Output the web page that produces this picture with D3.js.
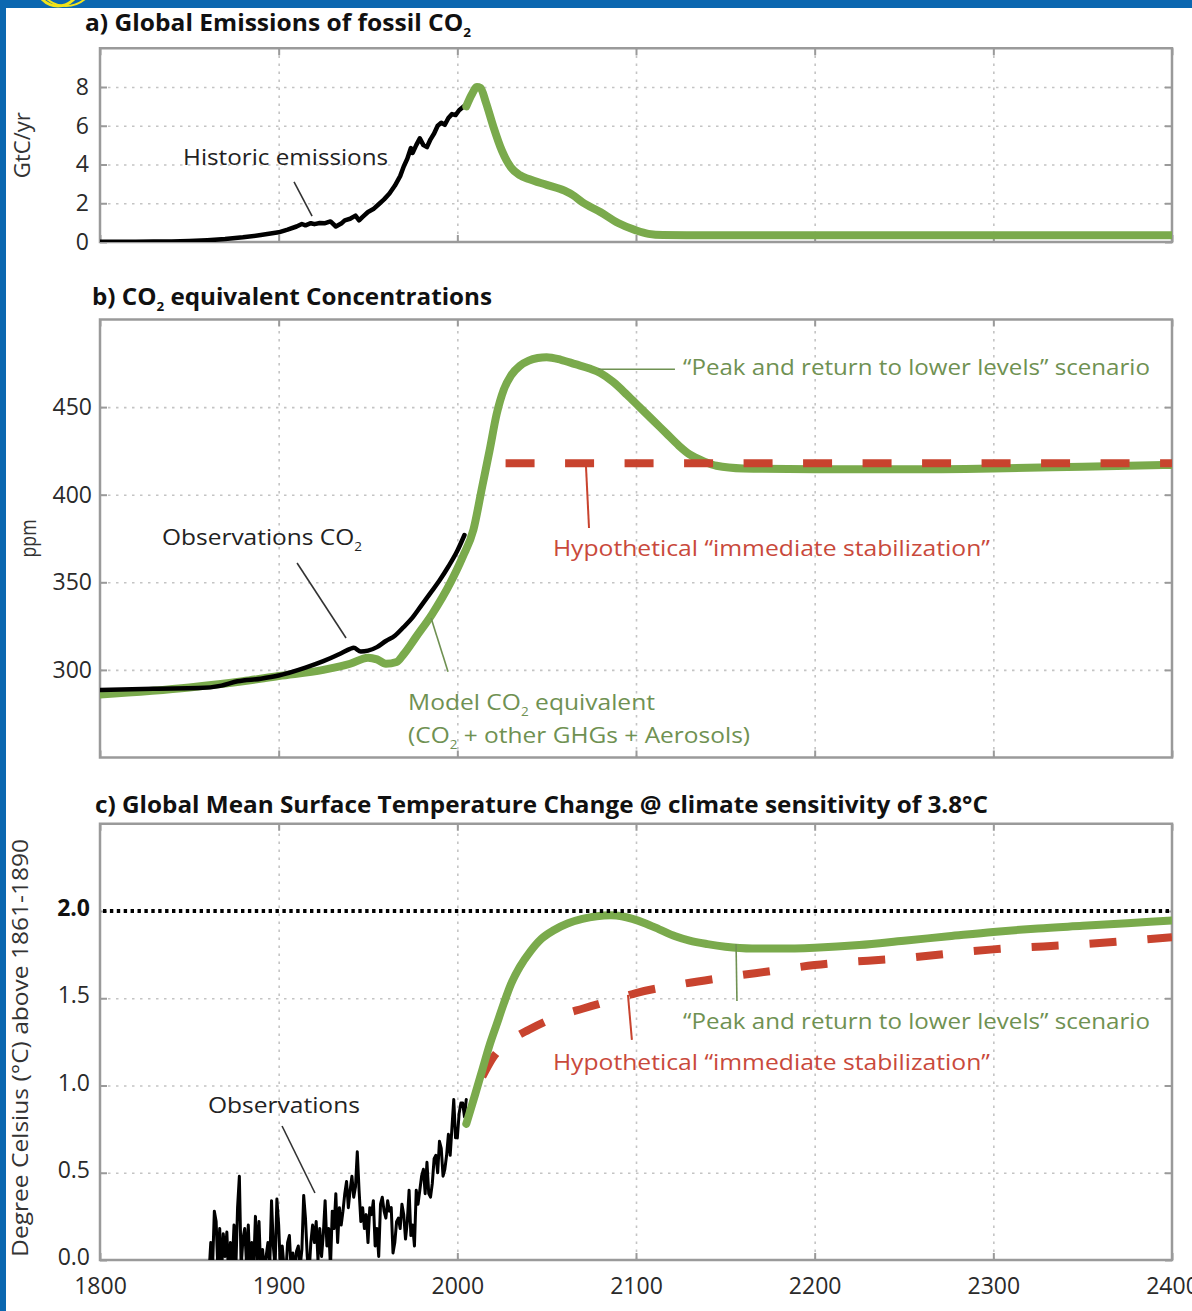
<!DOCTYPE html>
<html><head><meta charset="utf-8">
<script src="https://cdn.jsdelivr.net/npm/d3@7"></script>
<style>
body{margin:0;background:#0b67b0;}
svg{display:block;}
text{font-family:"Open Sans",sans-serif;}
</style></head><body>
<svg id="chart" width="1192" height="1311"></svg>
<script>
// ---------------- DATA ----------------
const xTicks = [1800, 1900, 2000, 2100, 2200, 2300, 2400];
const emisTicks = [0, 2, 4, 6, 8];
const concTicks = [300, 350, 400, 450];
const tempTicks = [0.0, 0.5, 1.0, 1.5, 2.0];

// a) historic fossil CO2 emissions (GtC/yr)
const historicEmissions = [
 [1800,0.01],[1810,0.01],[1820,0.015],[1830,0.02],[1840,0.03],[1850,0.05],[1860,0.09],[1870,0.15],
 [1880,0.24],[1890,0.36],[1900,0.5],[1905,0.64],[1910,0.8],[1913,0.93],[1915,0.86],[1918,0.97],
 [1920,0.92],[1923,0.98],[1926,0.97],[1929,1.06],[1932,0.8],[1935,0.95],[1937,1.12],[1940,1.2],
 [1943,1.36],[1945,1.12],[1947,1.3],[1950,1.55],[1953,1.7],[1956,1.95],[1959,2.2],[1962,2.5],
 [1965,2.9],[1968,3.4],[1970,3.9],[1972,4.3],[1974,4.85],[1975,4.6],[1977,5.0],[1979,5.35],
 [1981,5.0],[1983,4.9],[1985,5.3],[1987,5.6],[1989,6.0],[1991,6.15],[1993,6.05],[1995,6.4],
 [1997,6.6],[1999,6.55],[2001,6.8],[2003,6.95],[2005,7.1]
];
// a) "peak and return" emissions scenario
const scenarioEmissions = [
 [2005,7.0],[2008,7.6],[2011,8.0],[2013,7.95],[2016,7.2],[2020,6.0],[2025,4.7],[2030,3.85],
 [2035,3.45],[2040,3.25],[2050,2.95],[2060,2.65],[2065,2.4],[2070,2.05],[2080,1.55],[2090,0.98],
 [2100,0.6],[2107,0.42],[2115,0.36],[2150,0.35],[2250,0.35],[2400,0.35]
];

// b) observed CO2 (ppm)
const observedCO2 = [
 [1800,288.5],[1830,289.3],[1855,289.6],[1868,291],[1877,293.5],[1890,295],[1900,296.8],[1915,301.3],
 [1925,305],[1935,309.5],[1940,312],[1942,312.6],[1946,310.5],[1950,311],[1955,313],[1960,316.5],
 [1965,319.5],[1970,324.5],[1975,330],[1980,337],[1985,344],[1990,351],[1995,359],[2000,368],[2004,377]
];
// b) model CO2 equivalent, "peak and return" scenario (ppm)
const modelCO2eq = [
 [1800,286],[1850,290],[1880,293.5],[1900,296.5],[1925,300],[1940,303.5],[1950,307],[1955,306],
 [1960,303.5],[1966,304.5],[1970,309],[1977,319],[1986,332],[1996,349.5],[2003,364.5],[2009,380],
 [2014,405],[2018,425],[2022,446],[2026,460],[2030,468],[2035,473.5],[2040,476.5],[2045,478],
 [2050,478.5],[2058,477],[2066,474.5],[2074,472],[2080,469.5],[2087,464.5],[2095,457],[2102,450],
 [2110,442],[2117,435],[2124,428],[2130,423],[2138,419],[2145,416.5],[2160,415],[2200,414.5],
 [2250,414.5],[2300,415],[2350,416],[2400,417]
];
// b) hypothetical immediate stabilization (ppm)
const stabilizationCO2 = [[2027,418],[2400,418]];

// c) observed temperature anomaly 1861-2005 (°C above 1861-1890)
const obsTempStart = 1861;
const observedTemp = [
 -0.08,0.10,-0.04,0.28,0.22,-0.06,0.18,-0.08,0.15,0.02,
 0.16,-0.10,0.10,-0.04,0.20,-0.06,0.30,0.48,-0.04,0.12,
 0.18,-0.02,0.20,-0.08,0.10,-0.04,0.25,0.00,0.22,-0.08,
 0.06,-0.06,0.02,0.10,-0.04,0.34,0.08,-0.04,0.35,0.20,
 -0.06,0.08,-0.04,-0.08,0.10,0.14,-0.06,0.04,-0.08,0.05,
 0.08,-0.04,0.06,0.37,0.24,0.02,-0.08,0.10,0.20,0.10,
 0.22,0.00,0.18,0.02,0.15,0.34,0.08,0.18,-0.04,0.28,
 0.18,0.38,0.10,0.30,0.20,0.28,0.38,0.45,0.30,0.40,
 0.48,0.36,0.42,0.62,0.40,0.22,0.30,0.18,0.26,0.10,
 0.30,0.26,0.34,0.08,0.18,0.02,0.32,0.36,0.28,0.24,
 0.34,0.28,0.30,0.04,0.10,0.22,0.24,0.18,0.32,0.26,
 0.12,0.22,0.40,0.14,0.20,0.08,0.40,0.32,0.40,0.48,
 0.52,0.38,0.56,0.38,0.36,0.44,0.58,0.60,0.50,0.68,
 0.64,0.48,0.52,0.60,0.72,0.60,0.76,0.92,0.70,0.70,
 0.84,0.90,0.90,0.82,0.92
];
// c) "peak and return" temperature
const scenarioTemp = [
 [2005,0.78],[2010,0.95],[2014,1.09],[2018,1.23],[2022,1.35],[2026,1.47],[2030,1.58],[2035,1.68],
 [2041,1.77],[2047,1.84],[2054,1.89],[2062,1.93],[2070,1.955],[2078,1.97],[2086,1.975],[2092,1.97],
 [2098,1.955],[2105,1.93],[2113,1.895],[2122,1.855],[2130,1.83],[2140,1.81],[2150,1.795],[2165,1.785],
 [2180,1.785],[2200,1.79],[2225,1.805],[2250,1.83],[2275,1.855],[2300,1.88],[2325,1.9],
 [2350,1.915],[2375,1.93],[2400,1.945]
];
// c) hypothetical immediate stabilization temperature
const stabilizationTemp = [
 [2014,1.05],[2020,1.16],[2030,1.26],[2040,1.32],[2050,1.37],[2060,1.41],[2070,1.44],[2080,1.47],
 [2090,1.50],[2100,1.53],[2125,1.58],[2150,1.62],[2175,1.655],[2200,1.69],[2250,1.73],[2300,1.78],
 [2350,1.81],[2400,1.85]
];
const targetTemp = 2.0;

// ---------------- STYLE ----------------
const GREEN = "#7aaa4c", RED = "#c8432e", GTEXT = "#6f9152", RTEXT = "#c9493b";
const FRAME = "#9a9a9a", GRID = "#c4c4c4";

const svg = d3.select("#chart");
svg.append("rect").attr("width",1192).attr("height",1311).attr("fill","#0b67b0");
// yellow highlight remnant at the top-left
const deco = svg.append("g");
deco.append("clipPath").attr("id","topclip").append("rect").attr("x",0).attr("y",0).attr("width",200).attr("height",8);
deco.append("ellipse").attr("cx",58).attr("cy",-16).attr("rx",22).attr("ry",22)
  .attr("fill","none").attr("stroke","#f2e31a").attr("stroke-width",3).attr("clip-path","url(#topclip)");
deco.append("ellipse").attr("cx",66).attr("cy",-30).attr("rx",32).attr("ry",36)
  .attr("fill","none").attr("stroke","#f2e31a").attr("stroke-width",2).attr("clip-path","url(#topclip)");
svg.append("rect").attr("x",6).attr("y",8).attr("width",1186).attr("height",1303).attr("fill","#fff");

const x = d3.scaleLinear().domain([1800,2400]).range([100,1172]);
const L = 100, R = 1172;

function richText(g, parts, opts){
  const t = g.append("text").attr("x",opts.x).attr("y",opts.y)
    .attr("font-size",opts.size).attr("fill",opts.fill||"#222")
    .attr("font-weight",opts.weight||"normal");
  const shift = opts.size*0.28;
  let lowered = false;
  parts.forEach(p=>{
    const sp = t.append("tspan");
    if (typeof p === "string") {
      sp.text(p);
      if (lowered) { sp.attr("dy",-shift); lowered = false; }
    } else {
      sp.attr("font-size",opts.size*0.55).attr("dy",shift).text(p.sub);
      lowered = true;
    }
  });
  if (opts.width) t.attr("textLength",opts.width).attr("lengthAdjust","spacingAndGlyphs");
  if (opts.rotate) t.attr("transform",`rotate(-90,${opts.x},${opts.y})`).attr("text-anchor","middle");
  return t;
}

function panel(cfg){
  const y = d3.scaleLinear().domain(cfg.domain).range(cfg.range);
  const g = svg.append("g");
  const top = cfg.range[1], bot = cfg.range[0];
  // gridlines
  const gx = g.append("g").attr("transform",`translate(0,${bot})`)
    .call(d3.axisBottom(x).tickValues(xTicks.slice(1,-1)).tickSize(-(bot-top)).tickFormat(""));
  const gy = g.append("g").attr("transform",`translate(${L},0)`)
    .call(d3.axisLeft(y).tickValues(cfg.grid).tickSize(-(R-L)).tickFormat(""));
  [gx,gy].forEach(a=>{a.select(".domain").remove();
    a.selectAll("line").attr("stroke",GRID).attr("stroke-width",1.6).attr("stroke-dasharray","2.5,5.5");});
  // inside ticks
  const axL = g.append("g").attr("transform",`translate(${L},0)`)
    .call(d3.axisLeft(y).tickValues(cfg.ticks).tickSizeInner(-7).tickSizeOuter(0).tickPadding(cfg.pad).tickFormat(cfg.fmt));
  const axR = g.append("g").attr("transform",`translate(${R},0)`)
    .call(d3.axisRight(y).tickValues(cfg.ticks).tickSizeInner(-7).tickSizeOuter(0).tickFormat(""));
  const axT = g.append("g").attr("transform",`translate(0,${top})`)
    .call(d3.axisTop(x).tickValues(xTicks).tickSizeInner(-7).tickSizeOuter(0).tickFormat(""));
  const axB = g.append("g").attr("transform",`translate(0,${bot})`)
    .call(d3.axisBottom(x).tickValues(xTicks).tickSizeInner(-7).tickSizeOuter(0).tickPadding(18)
      .tickFormat(cfg.xLabels ? d3.format("d") : ""));
  [axL,axR,axT,axB].forEach(a=>{a.select(".domain").remove();
    a.selectAll("line").attr("stroke",FRAME).attr("stroke-width",2);
    a.selectAll("text").attr("font-family","Open Sans").attr("font-size",23).attr("fill","#2a2a2a");});
  axR.selectAll("text").remove(); axT.selectAll("text").remove();
  if (!cfg.xLabels) axB.selectAll("text").remove();
  if (cfg.labelDy) axL.selectAll("text").attr("dy",cfg.labelDy);
  // frame
  g.append("rect").attr("x",L).attr("y",top).attr("width",R-L).attr("height",bot-top)
    .attr("fill","none").attr("stroke",FRAME).attr("stroke-width",2.5);
  // clip
  g.append("clipPath").attr("id","clip"+cfg.id).append("rect")
    .attr("x",L).attr("y",top).attr("width",R-L).attr("height",bot-top);
  const plot = g.append("g").attr("clip-path",`url(#clip${cfg.id})`);
  // title
  richText(g, cfg.title, {x:cfg.titleX, y:cfg.titleY, size:23, weight:"bold", fill:"#111", width:cfg.titleW});
  // y label
  richText(g, [cfg.ylabel], {x:cfg.ylabX, y:(top+bot)/2 + cfg.ylabDy, size:22, fill:"#333", rotate:true, width:cfg.ylabW});
  return {g, plot, y, axL};
}

function line(plot, data, y, opts){
  const gen = d3.line().x(d=>x(d[0])).y(d=>y(d[1])).curve(opts.curve || d3.curveMonotoneX);
  return plot.append("path").datum(data).attr("d",gen).attr("fill","none")
    .attr("stroke",opts.color).attr("stroke-width",opts.width)
    .attr("stroke-linejoin","round").attr("stroke-linecap",opts.cap||"round")
    .attr("stroke-dasharray",opts.dash||null);
}
function leader(g, y, p1, p2, color, w){
  g.append("line").attr("x1",x(p1[0])).attr("y1",y(p1[1])).attr("x2",x(p2[0])).attr("y2",y(p2[1]))
    .attr("stroke",color).attr("stroke-width",w||1.6);
}

// ---------- Panel a ----------
const A = panel({id:"a", domain:[0,10], range:[242,48.25], ticks:emisTicks, grid:[2,4,6,8], pad:11,
  fmt:d3.format("d"), title:["a) Global Emissions of fossil CO",{sub:"2"}], titleX:85, titleY:31, titleW:386,
  ylabel:"GtC/yr", ylabX:30, ylabDy:0, ylabW:66});
line(A.plot, historicEmissions, A.y, {color:"#000", width:4.5, curve:d3.curveLinear});
line(A.plot, scenarioEmissions, A.y, {color:GREEN, width:8});
richText(A.g, ["Historic emissions"], {x:x(1846.5), y:A.y(3.97), size:22, fill:"#222", width:205});
leader(A.g, A.y, [1908.6,3.1], [1918.7,1.34], "#333");

// ---------- Panel b ----------
const B = panel({id:"b", domain:[250,500], range:[757.5,319.5], ticks:concTicks, grid:concTicks, pad:8,
  fmt:d3.format("d"), title:["b) CO",{sub:"2"}," equivalent Concentrations"], titleX:92, titleY:305, titleW:400,
  ylabel:"ppm", ylabX:36, ylabDy:0, ylabW:38});
line(B.plot, modelCO2eq, B.y, {color:GREEN, width:8});
line(B.plot, observedCO2, B.y, {color:"#000", width:4.5});
line(B.plot, stabilizationCO2, B.y, {color:RED, width:8, dash:"29,30.5", cap:"butt", curve:d3.curveLinear});
richText(B.g, ["“Peak and return to lower levels” scenario"], {x:x(2126.3), y:B.y(468.2), size:22, fill:GTEXT, width:467});
leader(B.g, B.y, [2078.7,471.6], [2121.8,471.6], GTEXT);
richText(B.g, ["Hypothetical “immediate stabilization”"], {x:x(2053.5), y:B.y(365), size:22, fill:RTEXT, width:437});
leader(B.g, B.y, [2072,416.3], [2073.7,381], RED, 2);
richText(B.g, ["Observations CO",{sub:"2"}], {x:x(1834.7), y:B.y(371.3), size:22, fill:"#222", width:200});
leader(B.g, B.y, [1910.3,361], [1937.7,318.2], "#333");
richText(B.g, ["Model CO",{sub:"2"}," equivalent"], {x:x(1972.4), y:B.y(277.2), size:22, fill:GTEXT, width:247});
richText(B.g, ["(CO",{sub:"2"}," + other GHGs + Aerosols)"], {x:x(1972.4), y:B.y(258.4), size:22, fill:GTEXT, width:342});
leader(B.g, B.y, [1985.3,329.6], [1994.8,298.9], GTEXT);

// ---------- Panel c ----------
const C = panel({id:"c", domain:[0,2.5], range:[1260,823.75], ticks:tempTicks, grid:[0.5,1.0,1.5], pad:10,
  fmt:d3.format(".1f"), xLabels:true, labelDy:"0.2em",
  title:["c) Global Mean Surface Temperature Change @ climate sensitivity of 3.8°C"], titleX:95, titleY:813, titleW:893,
  ylabel:"Degree Celsius (°C) above 1861-1890", ylabX:28, ylabDy:6, ylabW:418});
C.axL.selectAll(".tick text").filter(d=>d===2).attr("font-weight","bold").attr("fill","#111");
C.g.append("line").attr("x1",L+3).attr("x2",R).attr("y1",C.y(targetTemp)).attr("y2",C.y(targetTemp))
  .attr("stroke","#000").attr("stroke-width",4).attr("stroke-dasharray","3.4,3.5");
const obsTemp = observedTemp.map((v,i)=>[obsTempStart+i, v]);
line(C.plot, obsTemp, C.y, {color:"#000", width:3, curve:d3.curveLinear});
line(C.plot, stabilizationTemp, C.y, {color:RED, width:8, dash:"27,31", cap:"butt"});
line(C.plot, scenarioTemp, C.y, {color:GREEN, width:8});
richText(C.g, ["Observations"], {x:x(1860.4), y:C.y(0.842), size:22, fill:"#222", width:152});
leader(C.g, C.y, [1901.9,0.768], [1920.3,0.384], "#333");
richText(C.g, ["“Peak and return to lower levels” scenario"], {x:x(2126.3), y:C.y(1.324), size:22, fill:GTEXT, width:467});
leader(C.g, C.y, [2156,1.811], [2156.5,1.484], GTEXT);
richText(C.g, ["Hypothetical “immediate stabilization”"], {x:x(2053.5), y:C.y(1.089), size:22, fill:RTEXT, width:437});
leader(C.g, C.y, [2095.5,1.519], [2097.7,1.261], RED, 2);
</script>
</body></html>
